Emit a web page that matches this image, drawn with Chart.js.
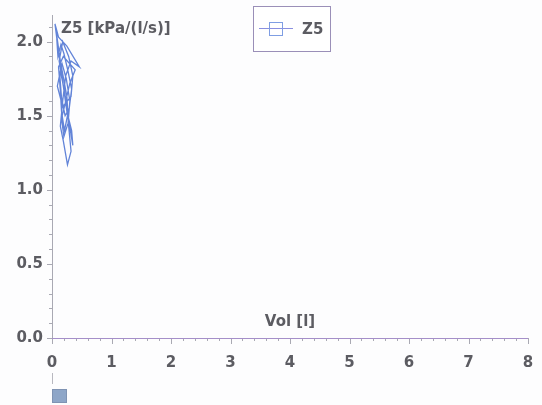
<!DOCTYPE html>
<html>
<head>
<meta charset="utf-8">
<script src="https://cdn.jsdelivr.net/npm/chart.js@4/dist/chart.umd.min.js"></script>
<style>
  html, body { margin: 0; padding: 0; background: #fdfdfe; }
  #wrap { position: relative; width: 542px; height: 405px; }
</style>
</head>
<body>
<div id="wrap"><canvas id="c" width="542" height="405"></canvas></div>
<script>
// Z5 impedance loop against volume
const seriesName = 'Z5';
const volume = [0.07, 0.14, 0.25, 0.28, 0.32, 0.26, 0.19, 0.14, 0.18, 0.23, 0.32, 0.46, 0.25, 0.11, 0.05,
                0.11, 0.18, 0.25, 0.33, 0.35, 0.28, 0.21, 0.14, 0.09, 0.18, 0.32, 0.35, 0.28, 0.18, 0.12,
                0.19, 0.26, 0.21, 0.16, 0.14, 0.11, 0.19, 0.39, 0.30, 0.22, 0.16, 0.20, 0.27, 0.30, 0.24,
                0.17, 0.13, 0.16, 0.22, 0.29, 0.33, 0.27, 0.20, 0.15, 0.10, 0.08];
const z5 = [2.07, 1.87, 1.63, 1.43, 1.26, 1.17, 1.33, 1.43, 1.60, 1.77, 1.87, 1.83, 1.97, 2.03, 2.12,
            1.93, 1.73, 1.53, 1.40, 1.30, 1.47, 1.67, 1.80, 1.70, 1.56, 1.63, 1.77, 1.90, 2.00, 1.87,
            1.70, 1.50, 1.40, 1.53, 1.67, 1.83, 1.90, 1.81, 1.72, 1.58, 1.48, 1.36, 1.45, 1.60, 1.75,
            1.85, 1.78, 1.62, 1.50, 1.55, 1.68, 1.80, 1.92, 1.98, 1.90, 2.02];
const xTickValues = [0, 1, 2, 3, 4, 5, 6, 7, 8];
const yTickValues = [0.0, 0.5, 1.0, 1.5, 2.0];
const xTitle = 'Vol [l]';
const yTitle = 'Z5 [kPa/(l/s)]';

const FONT = '"DejaVu Sans", Verdana, sans-serif';
const LINE_COLOR = '#6284d8';
const AXIS_X_COLOR = '#a58fc9';
const AXIS_Y_COLOR = '#a9a9b3';
const TEXT_COLOR = '#5c5c62';

// axis lines, major/minor tick marks, axis titles, legend and the scroll marker
const decorations = {
  id: 'decorations',
  afterDraw(chart) {
    const ctx = chart.ctx;
    const xs = chart.scales.x, ys = chart.scales.y;
    const x0 = xs.getPixelForValue(0), xEnd = xs.getPixelForValue(8);
    const y0 = ys.getPixelForValue(0), yTop = chart.chartArea.top;
    ctx.save();
    ctx.lineWidth = 1;

    // y axis with ticks
    ctx.strokeStyle = AXIS_Y_COLOR;
    ctx.beginPath();
    ctx.moveTo(x0 + 0.5, yTop);
    ctx.lineTo(x0 + 0.5, y0);
    for (let i = 0; i <= 21; i++) {
      const v = i / 10;
      const py = Math.round(ys.getPixelForValue(v)) + 0.5;
      const len = (i % 5 === 0) ? 5 : 3;
      ctx.moveTo(x0 - len, py);
      ctx.lineTo(x0, py);
    }
    ctx.stroke();

    // x axis with ticks
    ctx.strokeStyle = AXIS_Y_COLOR;
    ctx.beginPath();
    for (let i = 0; i <= 40; i++) {
      const v = i / 5;
      const px = Math.round(xs.getPixelForValue(v)) + 0.5;
      const len = (i % 5 === 0) ? 6 : 3;
      ctx.moveTo(px, y0);
      ctx.lineTo(px, y0 + len);
    }
    ctx.stroke();
    ctx.strokeStyle = AXIS_X_COLOR;
    ctx.beginPath();
    ctx.moveTo(x0, Math.round(y0) + 0.5);
    ctx.lineTo(xEnd, Math.round(y0) + 0.5);
    ctx.stroke();

    // axis titles inside the plot
    ctx.fillStyle = TEXT_COLOR;
    ctx.font = 'bold 15px ' + FONT;
    ctx.textBaseline = 'middle';
    ctx.textAlign = 'left';
    ctx.fillText(yTitle, x0 + 9, 29);
    ctx.textAlign = 'center';
    ctx.fillText(xTitle, xs.getPixelForValue(4.0), 322);

    // legend box
    const lx = 253.5, ly = 6.5, lw = 77, lh = 45;
    ctx.fillStyle = '#ffffff';
    ctx.fillRect(lx, ly, lw, lh);
    ctx.strokeStyle = '#9a8fb8';
    ctx.strokeRect(lx, ly, lw, lh);
    ctx.strokeStyle = '#8a8fe0';
    ctx.beginPath();
    ctx.moveTo(259, 28.5);
    ctx.lineTo(293, 28.5);
    ctx.stroke();
    ctx.strokeStyle = '#7f9ee3';
    ctx.strokeRect(269.5, 22.5, 13, 13);
    ctx.fillStyle = TEXT_COLOR;
    ctx.textAlign = 'left';
    ctx.fillText(chart.data.datasets[0].label, 302, 30);

    // scroll marker under the x axis
    ctx.strokeStyle = '#b8b8c0';
    ctx.beginPath();
    ctx.moveTo(x0 + 0.5, 373);
    ctx.lineTo(x0 + 0.5, 384);
    ctx.stroke();
    ctx.fillStyle = '#8ea6c8';
    ctx.fillRect(52, 389, 15, 14);
    ctx.strokeStyle = '#7f93b3';
    ctx.strokeRect(52.5, 389.5, 14, 13);
    ctx.restore();
  }
};

const points = volume.map((v, i) => ({ x: v, y: z5[i] }));

new Chart(document.getElementById('c'), {
  type: 'scatter',
  data: {
    datasets: [{
      label: seriesName,
      data: points,
      showLine: true,
      borderColor: LINE_COLOR,
      borderWidth: 1.3,
      pointRadius: 0,
      tension: 0
    }]
  },
  options: {
    responsive: false,
    animation: false,
    layout: { padding: { left: 0, right: 14, top: 15, bottom: 0 } },
    plugins: { legend: { display: false }, tooltip: { enabled: false } },
    scales: {
      x: {
        type: 'linear', min: 0, max: 8,
        border: { display: false },
        grid: { display: false, drawTicks: false },
        afterFit(s) { s.height = 67; s.paddingRight = 0; s.paddingLeft = 0; },
        afterBuildTicks(s) { s.ticks = xTickValues.map(v => ({ value: v })); },
        ticks: {
          padding: 16,
          color: TEXT_COLOR,
          font: { family: FONT, size: 15, weight: 'bold' },
          callback: v => String(v)
        }
      },
      y: {
        type: 'linear', min: 0, max: 2.18,
        border: { display: false },
        grid: { display: false, drawTicks: false },
        afterFit(s) { s.width = 52; s.paddingTop = 0; s.paddingBottom = 0; },
        afterBuildTicks(s) { s.ticks = yTickValues.map(v => ({ value: v })); },
        ticks: {
          padding: 9,
          color: TEXT_COLOR,
          font: { family: FONT, size: 15, weight: 'bold' },
          callback: v => v.toFixed(1)
        }
      }
    }
  },
  plugins: [decorations]
});
</script>
</body>
</html>
